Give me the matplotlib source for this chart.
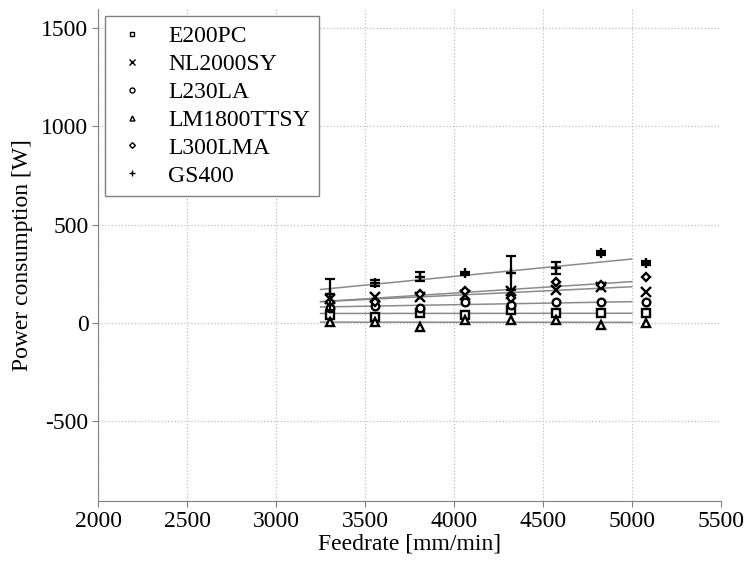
import matplotlib
matplotlib.use("Agg")
import matplotlib.pyplot as plt
import numpy as np

feedrate = [3302, 3556, 3810, 4064, 4318, 4572, 4826, 5080]

series_names = ["E200PC", "NL2000SY", "L230LA", "LM1800TTSY", "L300LMA", "GS400"]
series_markers = ["s", "x", "o", "^", "D", "+"]

E200PC = [40, 31, 52, 41, 66, 51, 52, 52]
NL2000SY = [120, 134, 130, 140, 163, 168, 185, 159]
L230LA = [77, 86, 77, 108, 92, 108, 108, 108]
LM1800TTSY = [5, 7, -20, 15, 15, 15, -10, 0]
L300LMA = [107, 108, 147, 163, 127, 210, 193, 236]
GS400 = [145, 203, 235, 253, 254, 280, 356, 305]
GS400_err = [77, 15, 22, 8, 86, 32, 8, 8]

# Trend line end values (at fit_x)
fit_x = [3250, 5000]
fit_E200PC = [48, 49]
fit_NL2000SY = [108, 184]
fit_L230LA = [81, 108]
fit_LM1800TTSY = [4, 3]
fit_L300LMA = [108, 210]
fit_GS400 = [170, 325]

values = [E200PC, NL2000SY, L230LA, LM1800TTSY, L300LMA, GS400]
fits = [fit_E200PC, fit_NL2000SY, fit_L230LA, fit_LM1800TTSY, fit_L300LMA, fit_GS400]

xticks = [2000, 2500, 3000, 3500, 4000, 4500, 5000, 5500]
yticks = [-500, 0, 500, 1000, 1500]

plt.rcParams['font.family'] = ['Liberation Serif', 'DejaVu Serif']
plt.rcParams['axes.unicode_minus'] = False

fig = plt.figure(figsize=(7.5, 5.65), dpi=100)
ax = fig.add_axes([0.131, 0.113, 0.83, 0.871])

for f in fits:
    ax.plot(fit_x, f, color='#8a8a8a', lw=1.1, zorder=2)

handles = []
for name, mk, v in zip(series_names, series_markers, values):
    ms = 5.5 if mk in ('s', 'o', '^') else (4.5 if mk == 'D' else 6.5)
    h, = ax.plot(feedrate, v, linestyle='none', marker=mk, ms=ms,
                 mfc='white' if mk not in ('x', '+') else 'black',
                 mec='black', mew=1.7, label=name, zorder=3)
    handles.append(h)

ax.errorbar(feedrate, GS400, yerr=GS400_err, fmt='none', ecolor='black',
            elinewidth=1.6, capsize=3.5, capthick=1.6, zorder=4)

ax.set_xlim(2000, 5500)
ax.set_ylim(-907, 1597)
ax.set_xticks(xticks)
ax.set_yticks(yticks)
ax.tick_params(labelsize=17, colors='#808080', labelcolor='black', length=4, pad=3)
ax.grid(True, linestyle=':', color='#c0c0c0', lw=0.9)
for s in ('top', 'right'):
    ax.spines[s].set_visible(False)
for s in ('left', 'bottom'):
    ax.spines[s].set_color('#808080')

ax.set_xlabel("Feedrate [mm/min]", fontsize=17, labelpad=1)
ax.set_ylabel("Power consumption [W]", fontsize=17, labelpad=6)

leg = ax.legend(handles=handles, loc='upper left', fontsize=17, markerscale=0.65,
                fancybox=False, edgecolor='#808080', framealpha=1,
                borderaxespad=0.3, labelspacing=0.27, handletextpad=0.75,
                handlelength=1.5, borderpad=0.4)
leg.get_frame().set_linewidth(1.0)
for lh in leg.legend_handles:
    lh.set_markeredgewidth(1.0)

fig.savefig("out.png", dpi=100)
